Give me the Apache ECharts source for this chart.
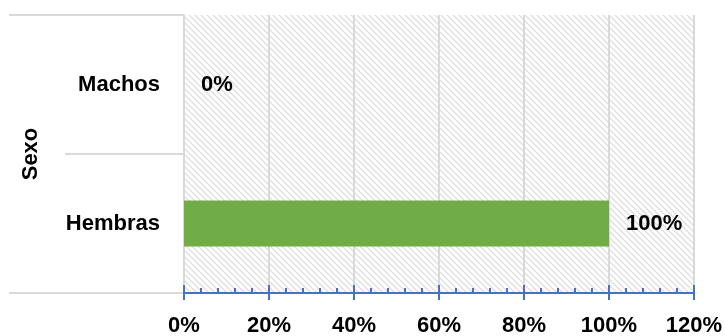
<!DOCTYPE html>
<html>
<head>
<meta charset="utf-8">
<script src="https://cdn.jsdelivr.net/npm/echarts@6/dist/echarts.min.js"></script>
<style>
  html, body { margin: 0; padding: 0; background: #fff; }
  #chart { width: 725px; height: 336px; }
</style>
</head>
<body>
<div id="chart"></div>
<script>
// datos
var categorias = ['Hembras', 'Machos'];
var porcentajes = [100, 0];
var xMin = 0, xMax = 120, xPaso = 20;

var fuente = '"Liberation Sans", Arial, sans-serif';
var azul = '#4472C4';
var gris = '#d9d9d9';

// trama diagonal del fondo
function trama() {
  var c = document.createElement('canvas');
  c.width = 6; c.height = 6;
  var ctx = c.getContext('2d');
  ctx.fillStyle = '#ffffff';
  ctx.fillRect(0, 0, 6, 6);
  ctx.strokeStyle = '#dedede';
  ctx.lineWidth = 1.3;
  ctx.beginPath();
  ctx.moveTo(-1, -1); ctx.lineTo(7, 7);
  ctx.moveTo(-4, 2); ctx.lineTo(2, 8);
  ctx.moveTo(2, -4); ctx.lineTo(8, 2);
  ctx.stroke();
  return c;
}

var myChart = echarts.init(document.getElementById('chart'));
var option = {
  animation: false,
  grid: {
    left: 184, right: 31, top: 15, bottom: 43,
    containLabel: false,
    outerBoundsMode: 'none',
    show: true,
    borderWidth: 0,
    backgroundColor: { image: trama(), repeat: 'repeat' }
  },
  xAxis: [
    {
      type: 'value',
      min: xMin, max: xMax, interval: xPaso,
      axisLine: { show: true, lineStyle: { color: azul, width: 2 } },
      axisTick: { show: true, inside: true, length: 8, lineStyle: { color: azul, width: 2 } },
      minorTick: { show: true, splitNumber: 5, length: 5, lineStyle: { color: azul, width: 2 } },
      splitLine: { show: true, lineStyle: { color: gris, width: 2 } },
      axisLabel: {
        margin: 22,
        formatter: '{value}%',
        color: '#000', fontFamily: fuente, fontWeight: 'bold', fontSize: 22
      }
    },
    {
      type: 'value',
      min: xMin, max: xMax, interval: xPaso,
      position: 'bottom',
      axisLine: { show: false },
      axisTick: { show: true, length: 7, lineStyle: { color: azul, width: 2 } },
      splitLine: { show: false },
      axisLabel: { show: false }
    }
  ],
  yAxis: [
    {
      type: 'category',
      data: categorias,
      name: 'Sexo',
      nameLocation: 'middle',
      nameGap: 142,
      nameRotate: 90,
      nameTextStyle: { color: '#000', fontFamily: fuente, fontWeight: 'bold', fontSize: 22 },
      axisLine: { show: true, lineStyle: { color: gris, width: 2 } },
      axisTick: { show: true, length: 119, lineStyle: { color: gris, width: 2 } },
      axisLabel: {
        margin: 24,
        color: '#000', fontFamily: fuente, fontWeight: 'bold', fontSize: 22
      }
    },
    {
      // lineas exteriores del grupo
      type: 'value',
      min: 0, max: 1, interval: 1,
      position: 'left',
      axisLine: { show: false },
      axisTick: { show: true, length: 175, lineStyle: { color: gris, width: 2 } },
      splitLine: { show: false },
      axisLabel: { show: false }
    }
  ],
  series: [
    {
      type: 'bar',
      xAxisIndex: 0,
      yAxisIndex: 0,
      data: porcentajes,
      barWidth: '33%',
      itemStyle: { color: '#70AD47' },
      label: {
        show: true,
        position: 'right',
        distance: 17,
        formatter: '{c}%',
        color: '#000', fontFamily: fuente, fontWeight: 'bold', fontSize: 22
      }
    }
  ]
};
option && myChart.setOption(option);
</script>
</body>
</html>
